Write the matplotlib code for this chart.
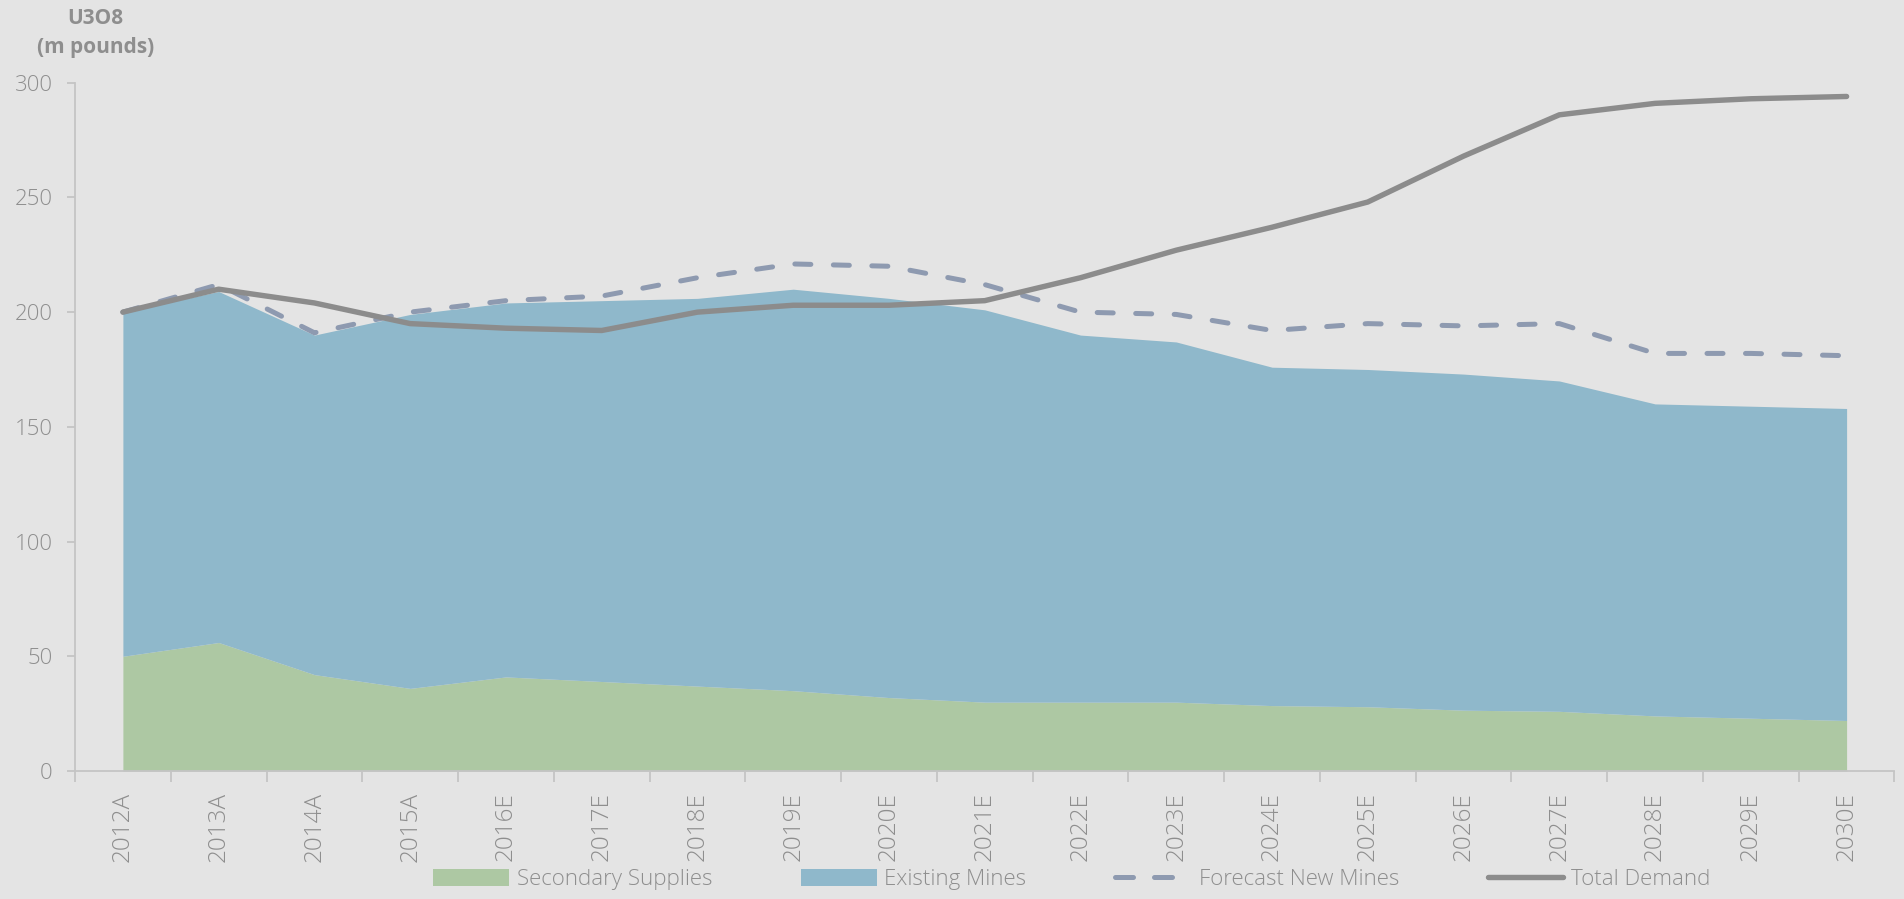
import matplotlib.pyplot as plt
import numpy as np
from matplotlib.patches import Patch
from matplotlib.lines import Line2D

# Data (m pounds U3O8)
years = ["2012A", "2013A", "2014A", "2015A", "2016E", "2017E", "2018E", "2019E",
         "2020E", "2021E", "2022E", "2023E", "2024E", "2025E", "2026E", "2027E",
         "2028E", "2029E", "2030E"]
secondary = [50, 56, 42, 36, 41, 39, 37, 35, 32, 30, 30, 30, 28.5, 28, 26.5, 26, 24, 23, 22]
existing_total = [200, 209, 190, 199, 204, 205, 206, 210, 206, 201, 190, 187, 176, 175,
                  173, 170, 160, 159, 158]
new_mines = [200, 212, 191, 200, 205, 207, 215, 221, 220, 212, 200, 199, 192, 195,
             194, 195, 182, 182, 181]
demand = [200, 210, 204, 195, 193, 192, 200, 203, 203, 205, 215, 227, 237, 248,
          268, 286, 291, 293, 294]

bg = "#e4e4e4"
txt = "#8e8e8e"
green = "#adc8a3"
blue = "#8fb8cb"
dash_col = "#8e9ab0"
demand_col = "#8c8c8c"

plt.rcParams["font.family"] = ["Open Sans", "DejaVu Sans"]

fig = plt.figure(figsize=(19.04, 8.99), dpi=100, facecolor=bg)
ax = fig.add_axes([0.0394, 0.1424, 0.9556, 0.7656], facecolor=bg)

x = np.arange(len(years))
ax.fill_between(x, 0, secondary, color=green, lw=0)
ax.fill_between(x, secondary, existing_total, color=blue, lw=0)
ax.plot(x, new_mines, color=dash_col, lw=3.6, dashes=(3.2, 4.5),
        dash_capstyle="round", solid_joinstyle="round")
ax.plot(x, demand, color=demand_col, lw=3.9, solid_capstyle="round",
        solid_joinstyle="round")

ax.set_xlim(-0.5, len(years) - 0.5)
ax.set_ylim(0, 300)

for s in ["top", "right"]:
    ax.spines[s].set_visible(False)
for s in ["left", "bottom"]:
    ax.spines[s].set_color("#c4c4c4")
    ax.spines[s].set_linewidth(1.3)

ax.set_yticks(range(0, 301, 50))
ax.tick_params(axis="y", colors="#c4c4c4", labelcolor=txt, labelsize=16,
               length=6, width=1.3, pad=10)
ax.set_xticks(x)
ax.set_xticklabels(years, rotation=90, fontweight="light")
ax.tick_params(axis="x", which="major", length=0, labelcolor=txt,
               labelsize=17.5, pad=15)
ax.set_xticks(np.arange(-0.5, len(years), 1), minor=True)
ax.tick_params(axis="x", which="minor", length=8, width=1.3, colors="#c4c4c4")
for lab in ax.get_yticklabels():
    lab.set_fontweight("light")

fig.text(0.05, 0.935, "U3O8\n(m pounds)", ha="center", va="bottom",
         fontsize=15, fontweight="bold", color=txt, linespacing=1.5)

handles = [
    Patch(facecolor=green, edgecolor="none"),
    Patch(facecolor=blue, edgecolor="none"),
    Line2D([], [], color=dash_col, lw=3.6, dashes=(3.6, 4.2), dash_capstyle="round"),
    Line2D([], [], color=demand_col, lw=3.9, solid_capstyle="round"),
]
labels = ["Secondary Supplies", "Existing Mines", "Forecast New Mines", "Total Demand"]
leg = fig.legend(handles, labels, loc="center", bbox_to_anchor=(0.563, 0.022),
                 ncol=4, frameon=False, prop={"size": 16, "weight": "light"},
                 handlelength=3.4, handleheight=0.8, handletextpad=0.35,
                 columnspacing=4.0)
for t in leg.get_texts():
    t.set_color(txt)

fig.savefig("out.png", dpi=100, facecolor=bg)
